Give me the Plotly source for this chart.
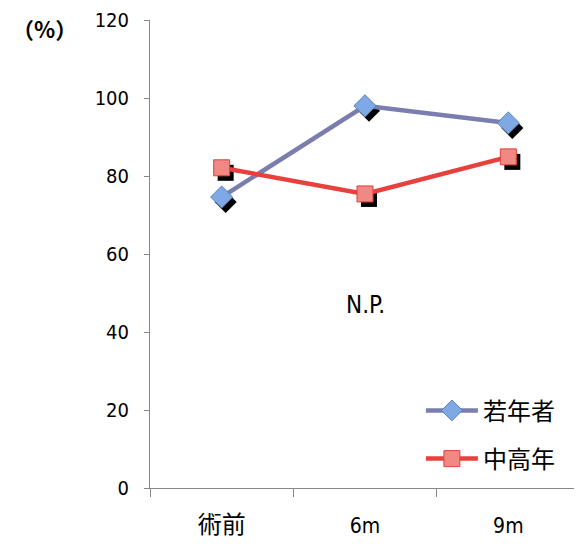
import plotly.graph_objects as go

categories = ["術前", "6m", "9m"]
young = [74.6, 98.0, 93.6]
middle = [82.1, 75.4, 84.9]
yticks = [0, 20, 40, 60, 80, 100, 120]

W, H = 572, 539
ml, mr, mt, mb = 142, 0, 12, 59
pw, ph = W - ml - mr, H - mt - mb
dx, dy = 4, 5  # shadow offset in px

fig = go.Figure()

sx = dx * 3 / pw
sy = dy * 120 / ph
fig.add_trace(go.Scatter(x=categories, y=young, mode="markers", xaxis="x", yaxis="y",
                         marker=dict(symbol="diamond", size=17, color="black"),
                         showlegend=False, cliponaxis=False, hoverinfo="skip"))
fig.add_trace(go.Scatter(x=categories, y=middle, mode="markers", xaxis="x", yaxis="y",
                         marker=dict(symbol="square", size=16, color="black"),
                         showlegend=False, cliponaxis=False, hoverinfo="skip"))

fig.add_trace(go.Scatter(x=categories, y=young, mode="lines+markers", name="若年者",
                         xaxis="x2", yaxis="y2", legendgroup="a",
                         line=dict(color="#7A7DAE", width=4.5),
                         marker=dict(symbol="diamond", size=17, color="#7EA9E4",
                                     line=dict(color="#5B7FB5", width=1)),
                         cliponaxis=False))
fig.add_trace(go.Scatter(x=categories, y=middle, mode="lines+markers", name="中高年",
                         xaxis="x2", yaxis="y2", legendgroup="b",
                         line=dict(color="#E8403C", width=4.5),
                         marker=dict(symbol="square", size=16, color="#F08883",
                                     line=dict(color="#E0403C", width=1)),
                         cliponaxis=False))

font = "DejaVu Sans Condensed, Noto Sans CJK JP"
ticktext = [f"<span style='font-size:24px'>{c}</span>" if not c[0].isdigit() else c
            for c in categories]
fig.update_layout(
    width=W, height=H,
    margin=dict(l=ml, r=mr, t=mt, b=mb),
    plot_bgcolor="white", paper_bgcolor="white",
    font=dict(family=font, size=18, color="black"),
    xaxis=dict(range=[-0.5 - sx, 2.5 - sx], type="category", visible=False,
               categoryorder="array", categoryarray=categories),
    yaxis=dict(range=[sy, 120 + sy], visible=False),
    xaxis2=dict(range=[-0.5, 2.5], type="category", overlaying="x", tickson="boundaries",
                ticks="outside", ticklen=8, tickcolor="#888", showline=True, linecolor="#888",
                linewidth=1, showgrid=False, tickfont=dict(size=21), ticklabelstandoff=19,
                tickvals=categories, ticktext=ticktext,
                categoryorder="array", categoryarray=categories, side="bottom", anchor="y2"),
    yaxis2=dict(range=[0, 120.001], tickvals=yticks, ticks="outside", ticklen=5, overlaying="y",
                tickcolor="#888", showline=True, linecolor="#888", linewidth=1, showgrid=False,
                zeroline=False, tickfont=dict(size=20), ticklabelstandoff=11, anchor="x2",
                side="left"),
    legend=dict(x=0.63, y=0.213, xanchor="left", yanchor="top", font=dict(size=24),
                bgcolor="rgba(0,0,0,0)", itemwidth=52, tracegroupgap=14),
    showlegend=True,
    annotations=[
        dict(x=1, y=47, xref="x2", yref="y2", text="N.P.", showarrow=False,
             font=dict(size=24, family=font)),
        dict(x=-(ml - 2) / pw, y=0.982, xref="paper", yref="paper", text="<b>（%）</b>",
             showarrow=False, font=dict(size=22, family="Noto Sans CJK JP"),
             xanchor="left", yanchor="middle"),
    ],
)
fig.write_html("out.html")
